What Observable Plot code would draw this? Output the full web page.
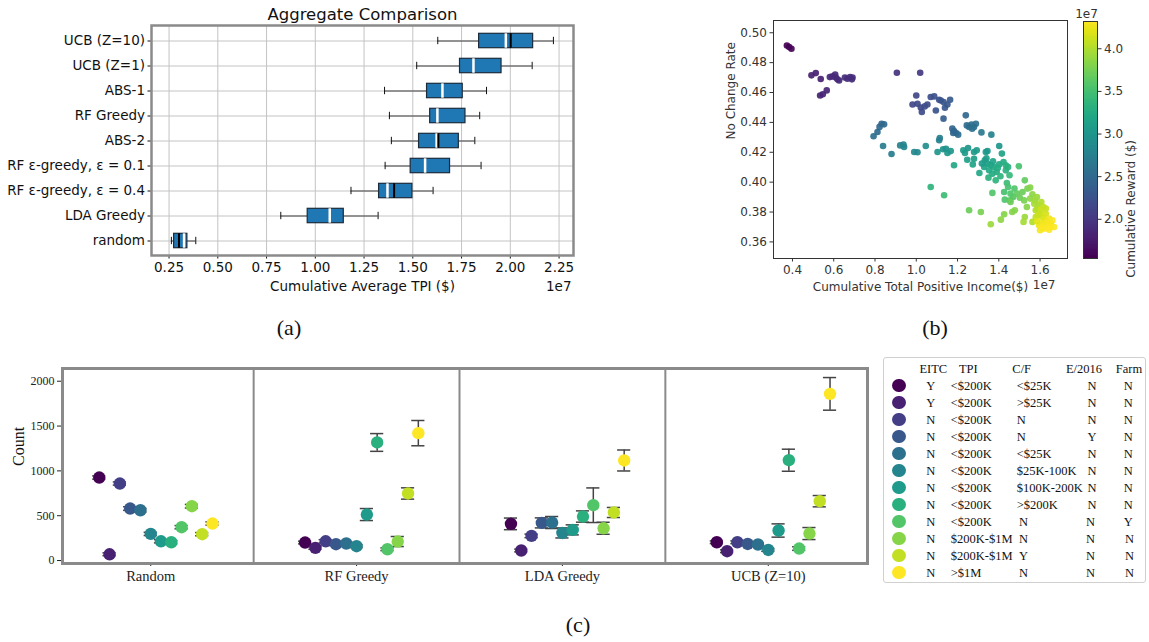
<!DOCTYPE html>
<html><head><meta charset="utf-8">
<script src="https://cdn.jsdelivr.net/npm/d3@7"></script>
<script src="https://cdn.jsdelivr.net/npm/@observablehq/plot@0.6"></script>
<style>
html,body{margin:0;padding:0;background:#fff;}
body{width:1149px;height:642px;position:relative;overflow:hidden;}
.panel{position:absolute;}
.panel svg{display:block;max-width:none;}
</style></head><body>
<div id="pa" class="panel" style="left:0;top:0;width:600px;height:300px"></div>
<div id="pb" class="panel" style="left:720px;top:0;width:360px;height:300px"></div>
<div id="pbar" class="panel" style="left:1070px;top:0;width:79px;height:300px"></div>
<div id="pc" class="panel" style="left:0;top:360px;width:880px;height:260px"></div>
<div id="legend" class="panel" style="left:882.5px;top:356.5px;width:263px;height:226px;border:1px solid #d0d0d0;border-radius:3px;box-sizing:border-box"></div>
<script>
// ---------- Panel (a): box summaries (units of 1e7 $) ----------
const methods = ["UCB (Z=10)","UCB (Z=1)","ABS-1","RF Greedy","ABS-2","RF ε-greedy, ε = 0.1","RF ε-greedy, ε = 0.4","LDA Greedy","random"];
const whiskerLo = [1.628,1.520,1.355,1.380,1.390,1.358,1.183,0.823,0.262];
const quart1    = [1.840,1.742,1.573,1.589,1.532,1.489,1.327,0.961,0.276];
const medians   = [1.977,1.811,1.652,1.626,1.622,1.563,1.370,1.074,0.327];
const means     = [2.002,null,null,null,1.631,null,1.404,null,0.301];
const quart3    = [2.117,1.955,1.756,1.770,1.736,1.691,1.498,1.146,0.344];
const whiskerHi = [2.221,2.112,1.878,1.843,1.818,1.850,1.604,1.322,0.387];
const aTicks = [0.25,0.50,0.75,1.00,1.25,1.50,1.75,2.00,2.25];

// ---------- Panel (b): scatter ----------
const scatterX = [
0.373,0.384,0.395,
0.492,0.513,0.537,0.534,0.547,0.566,0.581,0.594,0.607,0.610,0.618,0.626,0.654,0.666,0.679,0.691,0.688,
0.906,1.019,
1.000,0.982,1.006,1.022,1.027,1.041,1.054,1.070,1.087,1.095,1.111,1.119,1.132,1.139,1.151,1.164,1.132,
0.793,0.812,0.822,0.832,0.844,
1.175,1.183,1.193,1.203,1.179,1.240,1.245,1.256,1.268,1.280,1.289,1.271,1.316,1.364,
0.839,0.880,0.922,0.938,0.941,0.990,1.006,1.046,1.103,1.111,1.114,1.130,1.144,1.151,1.167,1.183,1.228,1.236,1.251,1.247,1.280,1.293,1.280,1.274,1.306,1.337,
1.332,1.345,1.329,1.361,1.353,1.377,1.369,1.390,1.385,1.402,
1.415,1.423,1.434,1.434,1.445,1.452,1.439,1.426,1.429,1.445,
1.457,1.470,1.454,1.476,1.497,1.489,1.502,1.515,1.526,1.523,
1.536,1.539,1.552,1.563,1.552,1.575,1.585,1.572,1.595,1.587,
1.606,1.616,1.600,1.579,1.563,1.611,1.628,1.623,1.644,1.652,
1.636,1.660,1.668,1.644,1.620,1.600,1.595,1.606,1.579,1.590,
1.603,1.628,1.526,1.520,1.465,1.478,1.457,
1.070,1.135,1.256,1.313,1.361,1.410,1.426,1.369,1.402,1.345,
1.318,1.340,1.372,1.395,1.408,1.350,1.612,1.632,1.648,1.585];
const scatterY = [
0.4915,0.4904,0.4893,
0.4715,0.473,0.469,0.458,0.4588,0.4614,0.4703,0.4708,0.4721,0.470,0.4688,0.468,0.470,0.4692,0.4703,0.470,0.4688,
0.4732,0.4732,
0.458,0.452,0.4525,0.450,0.447,0.4507,0.452,0.457,0.4574,0.448,0.4552,0.4547,0.4536,0.4498,0.452,0.4552,0.4425,
0.4307,0.4336,0.437,0.4391,0.4387,
0.4358,0.4342,0.4329,0.4318,0.4329,0.4447,0.438,0.4369,0.4385,0.4369,0.4391,0.4358,0.4333,0.4318,
0.4242,0.4188,0.4246,0.4251,0.4235,0.4202,0.420,0.4242,0.4202,0.428,0.4295,0.422,0.4224,0.4195,0.4208,0.4113,0.4213,0.4195,0.4228,0.415,0.4202,0.4213,0.4157,0.4119,0.4061,0.4202,
0.4146,0.4124,0.4101,0.4113,0.4079,0.4101,0.4057,0.4068,0.4012,0.4119,
0.4191,0.4135,0.4113,0.4079,0.4101,0.4046,0.3994,0.3934,0.3883,0.3968,
0.3923,0.3901,0.3878,0.3957,0.4106,0.3923,0.3896,0.3934,0.4012,0.3878,
0.3834,0.3957,0.3964,0.3919,0.389,0.3878,0.3901,0.3856,0.3845,0.3823,
0.3867,0.3834,0.3789,0.3767,0.3734,0.3767,0.3789,0.3745,0.3756,0.3722,
0.3711,0.3745,0.370,0.3682,0.3689,0.3678,0.3711,0.3727,0.3812,0.3778,
0.3816,0.3823,0.3767,0.3734,0.380,0.3812,0.3867,
0.3968,0.3912,0.3812,0.380,0.3718,0.3749,0.3785,0.3928,0.4242,0.4208,
0.4125,0.4160,0.4140,0.4095,0.4040,0.4030,0.3700,0.3730,0.3700,0.3740];
const scatterReward = [
1.55,1.56,1.57,
1.78,1.79,1.80,1.82,1.82,1.83,1.84,1.85,1.85,1.86,1.86,1.87,1.88,1.89,1.89,1.90,1.90,
1.95,1.98,
2.12,2.12,2.15,2.16,2.18,2.18,2.20,2.20,2.22,2.25,2.25,2.26,2.28,2.30,2.30,2.32,2.35,
2.55,2.50,2.48,2.46,2.48,
2.42,2.45,2.47,2.50,2.45,2.45,2.50,2.52,2.52,2.55,2.55,2.55,2.65,2.75,
2.70,2.70,2.75,2.78,2.80,2.85,2.85,2.90,3.00,2.75,2.72,2.95,2.95,3.00,3.00,3.20,3.05,3.05,3.00,3.10,3.05,3.05,3.10,3.15,3.20,3.05,
3.10,3.12,3.15,3.15,3.20,3.20,3.25,3.25,3.35,3.20,
3.15,3.25,3.30,3.30,3.30,3.40,3.45,3.50,3.55,3.50,
3.55,3.60,3.60,3.55,3.50,3.65,3.70,3.70,3.65,3.75,
3.80,3.75,3.80,3.85,3.85,3.90,3.90,3.95,3.95,4.00,
4.00,4.05,4.10,4.05,4.00,4.15,4.15,4.20,4.25,4.25,
4.30,4.30,4.30,4.32,4.30,4.28,4.25,4.25,4.00,4.10,
4.10,4.10,3.90,3.95,3.80,3.80,3.70,
3.35,3.45,3.70,3.75,3.90,3.85,3.80,3.55,3.00,3.00,
3.05,3.08,3.15,3.25,3.35,3.30,4.30,4.28,4.32,4.20];
const bXTicks = [0.4,0.6,0.8,1.0,1.2,1.4,1.6];
const bYTicks = [0.36,0.38,0.40,0.42,0.44,0.46,0.48,0.50];
const barTicks = [2.0,2.5,3.0,3.5,4.0];

// ---------- Panel (c): counts per group ----------
const categories = ["Random","RF Greedy","LDA Greedy","UCB (Z=10)"];
const countRandom = [926,70,859,580,561,297,215,204,372,606,294,413];
const errRandom   = [18,16,18,20,20,18,18,18,18,20,18,18];
const countRF     = [201,141,215,182,190,160,513,1317,126,212,748,1421];
const errRF       = [15,15,18,15,15,15,67,99,15,56,63,141];
const countLDA    = [409,112,275,420,424,308,342,491,617,360,536,1116];
const errLDA      = [65,15,20,56,67,56,56,63,193,67,56,117];
const countUCB    = [204,104,204,185,179,118,335,1119,134,301,662,1859];
const errUCB      = [15,15,15,15,15,15,74,123,20,67,63,182];
const cYTicks = [0,500,1000,1500,2000];

// ---------- Legend table ----------
const legEITC = ["Y","Y","N","N","N","N","N","N","N","N","N","N"];
const legTPI  = ["<$200K","<$200K","<$200K","<$200K","<$200K","<$200K","<$200K","<$200K","<$200K","$200K-$1M","$200K-$1M",">$1M"];
const legCF   = ["<$25K",">$25K","N","N","<$25K","$25K-100K","$100K-200K",">$200K","N","N","Y","N"];
const legE2016= ["N","N","N","Y","N","N","N","N","N","N","N","N"];
const legFarm = ["N","N","N","N","N","N","N","N","Y","N","N","N"];
const legHeaders = ["EITC","TPI","C/F","E/2016","Farm"];

const groupColors = d3.range(12).map(i => d3.interpolateViridis(i / 11));

// ================= Panel (a) =================
const boxRows = methods.map((m, i) => ({m, lo: whiskerLo[i], q1: quart1[i], med: medians[i], mean: means[i], q3: quart3[i], hi: whiskerHi[i]}));
const pa = Plot.plot({
  width: 600, height: 300,
  marginLeft: 151, marginRight: 27, marginTop: 25, marginBottom: 45,
  style: {fontFamily: "DejaVu Sans", fontSize: "13.5px", color: "#111", background: "transparent"},
  x: {domain: [0.16, 2.324], ticks: aTicks, tickFormat: d3.format(".2f"), tickSize: 3.5, tickPadding: 3, label: null},
  y: {type: "band", domain: methods, padding: 0, tickSize: 3.5, tickPadding: 3, label: null},
  marks: [
    Plot.ruleX(aTicks, {x: d => d, stroke: "#c4c4c4", strokeWidth: 1}),
    Plot.ruleY(methods, {y: d => d, stroke: "#c4c4c4", strokeWidth: 1}),
    Plot.ruleY(boxRows, {y: "m", x1: "lo", x2: "q1", stroke: "#444", strokeWidth: 1}),
    Plot.ruleY(boxRows, {y: "m", x1: "q3", x2: "hi", stroke: "#444", strokeWidth: 1}),
    Plot.tickX(boxRows, {y: "m", x: "lo", stroke: "#111", strokeWidth: 1, insetTop: 8.8, insetBottom: 8.8}),
    Plot.tickX(boxRows, {y: "m", x: "hi", stroke: "#111", strokeWidth: 1, insetTop: 8.8, insetBottom: 8.8}),
    Plot.barX(boxRows, {y: "m", x1: "q1", x2: "q3", fill: "#1f77b4", stroke: "#1b2b3b", strokeWidth: 1.2, insetTop: 5.3, insetBottom: 5.3}),
    Plot.tickX(boxRows, {y: "m", x: "med", stroke: "#ffffff", strokeWidth: 2.5, insetTop: 5.3, insetBottom: 5.3}),
    Plot.tickX(boxRows.filter(d => d.mean != null), {y: "m", x: "mean", stroke: "#000", strokeWidth: 2, insetTop: 5.3, insetBottom: 5.3}),
    Plot.frame({stroke: "#8a8a8a", strokeWidth: 2.5}),
    Plot.text(["Aggregate Comparison"], {text: d => d, frameAnchor: "top", lineAnchor: "middle", dy: -11, fontSize: 16.5, fill: "#111"}),
    Plot.text(["Cumulative Average TPI ($)"], {text: d => d, frameAnchor: "bottom", lineAnchor: "middle", dy: 31, fill: "#111"}),
    Plot.text(["1e7"], {text: d => d, frameAnchor: "bottom-right", lineAnchor: "middle", textAnchor: "end", dx: -2, dy: 31, fill: "#111"})
  ]
});
document.getElementById("pa").appendChild(pa);

// ================= Panel (b) =================
const pts = scatterX.map((x, i) => ({x, y: scatterY[i], r: scatterReward[i]}));
const rewardDomain = [1.54, 4.32];
const pb = Plot.plot({
  width: 360, height: 300,
  marginLeft: 53, marginRight: 13, marginTop: 20, marginBottom: 42,
  style: {fontFamily: "DejaVu Sans", fontSize: "12px", color: "#333", background: "transparent"},
  x: {domain: [0.308, 1.733], ticks: bXTicks, tickFormat: d3.format(".1f"), tickSize: 3.5, tickPadding: 3, label: null},
  y: {domain: [0.3489, 0.5082], ticks: bYTicks, tickFormat: d3.format(".2f"), tickSize: 3.5, tickPadding: 3, label: null},
  color: {type: "linear", scheme: "viridis", domain: rewardDomain},
  marks: [
    Plot.dot(pts, {x: "x", y: "y", fill: "r", r: 3.3, fillOpacity: 0.92}),
    Plot.frame({stroke: "#333", strokeWidth: 1}),
    Plot.text(["Cumulative Total Positive Income($)"], {text: d => d, frameAnchor: "bottom", lineAnchor: "middle", dy: 29, fill: "#333"}),
    Plot.text(["1e7"], {text: d => d, frameAnchor: "bottom-right", lineAnchor: "middle", dx: -12, dy: 27, fill: "#333"}),
    Plot.text(["No Change Rate"], {text: d => d, frameAnchor: "left", dx: -42, rotate: -90, fill: "#333"})
  ]
});
document.getElementById("pb").appendChild(pb);

// colorbar
const rampSteps = d3.range(rewardDomain[0], rewardDomain[1], 0.02);
const pbar = Plot.plot({
  width: 79, height: 300,
  marginLeft: 13, marginRight: 52, marginTop: 21, marginBottom: 42,
  style: {fontFamily: "DejaVu Sans", fontSize: "12px", color: "#333", background: "transparent"},
  x: {domain: [0, 1], axis: null},
  y: {domain: rewardDomain, ticks: barTicks, tickFormat: d3.format(".1f"), axis: "right", tickSize: 3.5, tickPadding: 3, label: null},
  color: {type: "linear", scheme: "viridis", domain: rewardDomain},
  marks: [
    Plot.rect(rampSteps, {x1: 0, x2: 1, y1: d => d, y2: d => Math.min(d + 0.04, rewardDomain[1]), fill: d => d, shapeRendering: "crispEdges"}),
    Plot.frame({stroke: "#333", strokeWidth: 1}),
    Plot.text(["Cumulative Reward ($)"], {text: d => d, frameAnchor: "right", dx: 34, rotate: -90, fill: "#333"}),
    Plot.text(["1e7"], {text: d => d, frameAnchor: "top", lineAnchor: "middle", dx: -4, dy: -7, fill: "#333"})
  ]
});
document.getElementById("pbar").appendChild(pbar);

// ================= Panel (c) =================
const allCounts = [countRandom, countRF, countLDA, countUCB];
const allErrs = [errRandom, errRF, errLDA, errUCB];
const cPts = [];
categories.forEach((c, ci) => allCounts[ci].forEach((v, gi) => {
  cPts.push({ci, gi, pos: ci - 0.25 + 0.05 * gi, v, e: allErrs[ci][gi]});
}));
const capHalf = 0.032;
const pc = Plot.plot({
  width: 880, height: 260,
  marginLeft: 62, marginRight: 13, marginTop: 8, marginBottom: 57,
  style: {fontFamily: "Liberation Serif", fontSize: "12px", color: "#222", background: "transparent"},
  x: {domain: [-0.4286, 3.482], ticks: [0, 1, 2, 3], tickFormat: i => categories[i], tickSize: 3, tickPadding: 4, label: null},
  y: {domain: [-33, 2142], ticks: cYTicks, tickFormat: d3.format("d"), tickSize: 5, tickPadding: 3, label: null},
  color: {type: "ordinal", domain: d3.range(12), range: groupColors},
  marks: [
    Plot.ruleX([0.5, 1.5, 2.5], {x: d => d, stroke: "#8a8a8a", strokeWidth: 2}),
    Plot.ruleX(cPts, {x: "pos", y1: d => d.v - d.e, y2: d => d.v + d.e, stroke: "#444", strokeWidth: 1.5}),
    Plot.ruleY(cPts, {y: d => d.v + d.e, x1: d => d.pos - capHalf, x2: d => d.pos + capHalf, stroke: "#444", strokeWidth: 1.5}),
    Plot.ruleY(cPts, {y: d => d.v - d.e, x1: d => d.pos - capHalf, x2: d => d.pos + capHalf, stroke: "#444", strokeWidth: 1.5}),
    Plot.dot(cPts, {x: "pos", y: "v", fill: "gi", r: 6.2}),
    Plot.frame({stroke: "#8a8a8a", strokeWidth: 3}),
    Plot.text(["Count"], {text: d => d, frameAnchor: "left", dx: -44, rotate: -90, fontSize: 16, fill: "#111"})
  ]
});
pc.querySelectorAll("g[aria-label='x-axis'] text, g[aria-label='x-axis tick label'] text").forEach(t => t.setAttribute("font-size", "14.5"));
document.getElementById("pc").appendChild(pc);

// ================= Legend (HTML) =================
function place(parent, txt, x, y, {size = 12.5, family = "Liberation Serif", anchor = "middle", color = "#111"} = {}) {
  const el = document.createElement("div");
  el.textContent = txt;
  const tx = anchor === "start" ? "0" : anchor === "end" ? "-100%" : "-50%";
  el.style.cssText = `position:absolute;left:${x}px;top:${y}px;font-size:${size}px;font-family:"${family}",serif;color:${color};white-space:nowrap;line-height:1;transform:translate(${tx},-50%);`;
  parent.appendChild(el);
  return el;
}
const body = document.body;
const hdrX = [933.3, 968.3, 1021.7, 1084, 1129];
legHeaders.forEach((h, i) => place(body, h, hdrX[i], 368.5));
for (let i = 0; i < 12; i++) {
  const y = 385.7 + 17.0 * i;
  const dot = document.createElement("div");
  dot.style.cssText = `position:absolute;left:${899 - 6.7}px;top:${y - 6.7}px;width:13.4px;height:13.4px;border-radius:50%;background:${groupColors[i]};`;
  body.appendChild(dot);
  place(body, legEITC[i], 930.7, y);
  place(body, legTPI[i], 950.7, y, {anchor: "start"});
  place(body, legCF[i], i >= 8 ? 1019 : 1016.7, y, {anchor: "start"});
  place(body, legE2016[i], i >= 8 ? 1090.5 : 1092, y);
  place(body, legFarm[i], i >= 9 ? 1129.5 : 1128.3, y);
}

// captions
place(body, "(a)", 289, 328, {size: 22});
place(body, "(b)", 935, 328, {size: 22});
place(body, "(c)", 578, 625, {size: 22});
</script>
</body></html>
